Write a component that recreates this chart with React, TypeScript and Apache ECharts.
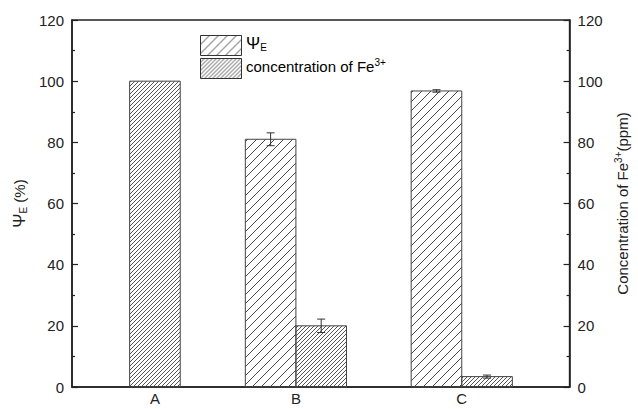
import { useEffect, useRef } from 'react';
import * as echarts from 'echarts';

// Samples and measured values
const categories = ['A', 'B', 'C'];
const psiE = [100, 81, 96.8];
const psiEErr = [0, 2.1, 0.4];
const feConc: (number | null)[] = [null, 20, 3.4];
const feConcErr = [0, 2.2, 0.5];
const yTickValues = [0, 20, 40, 60, 80, 100, 120];

// Layout of the groups along a 0..3 value axis
const groupCenters = [0.5, 1.35, 2.35];
const BAR_W = 0.305;

const FONT = 'Liberation Sans, Arial, Helvetica, sans-serif';
const INK = '#222';

function makeHatch(step: number, color: string) {
  const c = document.createElement('canvas');
  c.width = step;
  c.height = step;
  const ctx = c.getContext('2d')!;
  ctx.strokeStyle = color;
  ctx.lineWidth = 1;
  ctx.beginPath();
  ctx.moveTo(-1, step + 1);
  ctx.lineTo(step + 1, -1);
  ctx.moveTo(-step - 1, step + 1);
  ctx.lineTo(1, -1);
  ctx.moveTo(step - 1, 2 * step + 1);
  ctx.lineTo(2 * step + 1, step - 1);
  ctx.stroke();
  return { image: c, repeat: 'repeat', imageWidth: step, imageHeight: step } as any;
}

export default function App() {
  const ref = useRef<HTMLDivElement>(null);

  useEffect(() => {
    if (!ref.current) return;
    const chart = echarts.init(ref.current, undefined, { renderer: 'svg' });
    const sparse = makeHatch(9, '#4a4a4a');
    const dense = makeHatch(4, '#555');

    // A group with only one bar keeps it centred; paired bars sit side by side
    const psiData = categories.map((_, i) => {
      const paired = feConc[i] != null;
      const x = paired ? groupCenters[i] - BAR_W / 2 : groupCenters[i];
      return [x, psiE[i], psiEErr[i], paired ? 0 : 1];
    });
    const feData = categories
      .map((_, i) =>
        feConc[i] == null ? null : [groupCenters[i] + BAR_W / 2, feConc[i] as number, feConcErr[i], 1]
      )
      .filter(Boolean) as number[][];

    const renderBar = (params: any, api: any) => {
      const x = api.value(0);
      const y = api.value(1);
      const err = api.value(2);
      const isDense = api.value(3) === 1;
      const base = api.coord([x, 0]);
      const top = api.coord([x, y]);
      const w = api.size([BAR_W, 0])[0];
      const children: any[] = [
        {
          type: 'rect',
          shape: { x: base[0] - w / 2, y: top[1], width: w, height: base[1] - top[1] },
          style: { fill: isDense ? dense : sparse, stroke: '#444', lineWidth: 1 },
        },
      ];
      if (err > 0) {
        const hi = api.coord([x, y + err]);
        const lo = api.coord([x, y - err]);
        const cap = 4;
        const ls = { stroke: '#333', lineWidth: 1 };
        children.push(
          { type: 'line', shape: { x1: hi[0], y1: hi[1], x2: lo[0], y2: lo[1] }, style: ls },
          { type: 'line', shape: { x1: hi[0] - cap, y1: hi[1], x2: hi[0] + cap, y2: hi[1] }, style: ls },
          { type: 'line', shape: { x1: lo[0] - cap, y1: lo[1], x2: lo[0] + cap, y2: lo[1] }, style: ls }
        );
      }
      return { type: 'group', children };
    };

    const tickLabel = { fontFamily: FONT, fontSize: 15, color: INK };
    const nameRich = {
      a: { fontFamily: FONT, fontSize: 15, color: INK, lineHeight: 18 },
      psi: { fontFamily: FONT, fontSize: 17, color: INK, lineHeight: 18 },
      sub: { fontFamily: FONT, fontSize: 10, color: INK, verticalAlign: 'bottom', lineHeight: 12 },
      sup: { fontFamily: FONT, fontSize: 10, color: INK, verticalAlign: 'top', lineHeight: 12 },
    };

    const yAxisBase = (position: 'left' | 'right') => ({
      type: 'value',
      position,
      min: 0,
      max: 120,
      interval: 20,
      nameLocation: 'middle',
      nameTextStyle: { rich: nameRich },
      axisLine: { show: true, lineStyle: { color: INK, width: 1.5 } },
      axisTick: { show: true, inside: true, length: 6, lineStyle: { color: INK, width: 1.2 } },
      minorTick: { show: true, splitNumber: 2, length: 3, lineStyle: { color: INK, width: 1.2 } },
      axisLabel: { ...tickLabel, margin: 8, customValues: yTickValues },
      splitLine: { show: false },
    });

    chart.setOption({
      animation: false,
      backgroundColor: '#fff',
      grid: {
        left: 72,
        right: 65,
        top: 20,
        bottom: 22,
        show: true,
        borderColor: INK,
        borderWidth: 1.5,
        backgroundColor: 'transparent',
      },
      xAxis: {
        type: 'value',
        min: 0,
        max: 3,
        axisLine: { show: true, onZero: false, lineStyle: { color: INK, width: 1.5 } },
        axisTick: { show: false },
        splitLine: { show: false },
        axisLabel: {
          ...tickLabel,
          margin: 4,
          customValues: groupCenters,
          formatter: (v: number) => {
            const i = groupCenters.findIndex((c) => Math.abs(c - v) < 1e-6);
            return i >= 0 ? categories[i] : '';
          },
        },
      },
      yAxis: [
        { ...yAxisBase('left'), name: '{psi|Ψ}{sub|E}{a| (%)}', nameGap: 40 },
        {
          ...yAxisBase('right'),
          name: '{a|Concentration of Fe}{sup|3+}{a|(ppm)}',
          nameGap: 40,
        },
      ],
      series: [
        {
          type: 'custom',
          name: 'ψE',
          renderItem: renderBar,
          data: psiData,
          encode: { x: 0, y: 1 },
          yAxisIndex: 0,
        },
        {
          type: 'custom',
          name: 'concentration of Fe3+',
          renderItem: renderBar,
          data: feData,
          encode: { x: 0, y: 1 },
          yAxisIndex: 1,
        },
      ],
      graphic: [
        {
          type: 'rect',
          left: 200,
          top: 35,
          shape: { width: 41, height: 20 },
          style: { fill: sparse, stroke: '#333', lineWidth: 1 },
        },
        {
          type: 'text',
          left: 246,
          top: 35,
          style: {
            text: '{psi|Ψ}{sub|E}',
            rich: nameRich,
          },
        },
        {
          type: 'rect',
          left: 200,
          top: 58,
          shape: { width: 41, height: 20 },
          style: { fill: dense, stroke: '#333', lineWidth: 1 },
        },
        {
          type: 'text',
          left: 246,
          top: 57,
          style: {
            text: '{a|concentration of Fe}{sup|3+}',
            rich: nameRich,
          },
        },
      ],
    });

    return () => chart.dispose();
  }, []);

  return (
    <div
      ref={ref}
      style={{ position: 'fixed', left: 0, top: 0, width: 638, height: 409, overflow: 'hidden' }}
    />
  );
}
